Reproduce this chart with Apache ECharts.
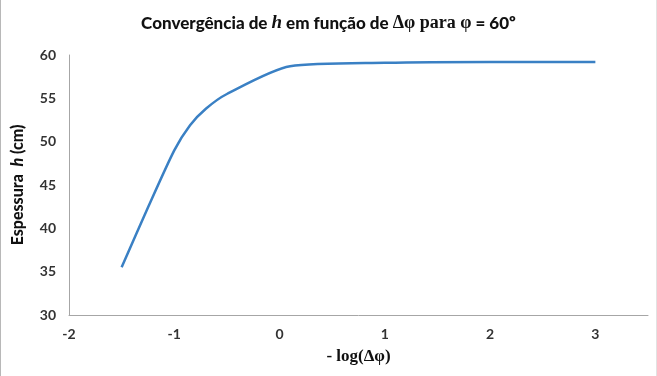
<!DOCTYPE html>
<html>
<head>
<meta charset="utf-8">
<script src="https://cdn.jsdelivr.net/npm/echarts@6/dist/echarts.min.js"></script>
<style>
html,body{margin:0;padding:0;background:#fff;}
#wrap{position:relative;width:657px;height:376px;}
#chart{width:657px;height:376px;}
#bl{position:absolute;left:0;top:0;width:1px;height:376px;background:#b8b8b8;}
#br{position:absolute;right:0;top:0;width:1px;height:376px;background:#e2e2e2;}
</style>
</head>
<body>
<div id="wrap"><div id="chart"></div><div id="bl"></div><div id="br"></div></div>
<script>
// -log(Δφ) values
const xValues = [-1.5, -1.25, -1.0, -0.85, -0.7, -0.5, 0.1, 1, 2, 3];
// Espessura h (cm)
const hValues = [35.5, 42.4, 49.0, 51.9, 53.8, 55.5, 58.7, 59.1, 59.2, 59.2];
const yTicks = [30, 35, 40, 45, 50, 55, 60];
const xTicks = [-2, -1, 0, 1, 2, 3];

const chart = echarts.init(document.getElementById('chart'), null, {renderer: 'canvas'});
const labelFont = 'Lato, "Open Sans", sans-serif';
chart.setOption({
  animation: false,
  backgroundColor: '#fff',
  title: {
    text: '{a|Convergência de }{h|h}{a| em função de }{t|Δφ para φ}{a| = 60º}',
    left: 'center',
    top: 9,
    textStyle: {
      rich: {
        a: {fontFamily: labelFont, fontWeight: 900, fontSize: 17, color: '#111'},
        h: {fontFamily: '"Liberation Serif", serif', fontWeight: 'bold', fontStyle: 'italic', fontSize: 19, color: '#111'},
        t: {fontFamily: '"Liberation Serif", serif', fontWeight: 'bold', fontSize: 18, color: '#111'}
      }
    }
  },
  grid: {left: 69, right: 9, top: 55, bottom: 61, containLabel: false},
  xAxis: {
    type: 'value',
    min: -2, max: 3.5, interval: 1,
    name: '- log(Δφ)',
    nameLocation: 'middle',
    nameGap: 33,
    nameTextStyle: {fontFamily: '"Liberation Serif", serif', fontWeight: 'bold', fontSize: 17, color: '#111'},
    axisLine: {show: true, onZero: false, lineStyle: {color: '#a6a6a6', width: 1}},
    axisTick: {show: false},
    splitLine: {show: false},
    axisLabel: {
      showMaxLabel: false,
      fontFamily: labelFont, fontWeight: 'bold', fontSize: 14, color: '#333', margin: 12,
      formatter: function (v) { return xTicks.indexOf(v) >= 0 ? String(v) : ''; }
    }
  },
  yAxis: {
    type: 'value',
    min: 30, max: 60, interval: 5,
    name: '{a|Espessura  }{h|h}{a| (cm)}',
    nameLocation: 'middle',
    nameGap: 43,
    nameRotate: 90,
    nameTextStyle: {
      rich: {
        a: {fontFamily: labelFont, fontWeight: 900, fontSize: 16, color: '#111'},
        h: {fontFamily: labelFont, fontWeight: 900, fontStyle: 'italic', fontSize: 16, color: '#111'}
      }
    },
    axisLine: {show: true, onZero: false, lineStyle: {color: '#a6a6a6', width: 1}},
    axisTick: {show: false},
    splitLine: {show: false},
    axisLabel: {
      fontFamily: labelFont, fontWeight: 'bold', fontSize: 14, color: '#333', margin: 13,
      formatter: function (v) { return yTicks.indexOf(v) >= 0 ? String(v) : ''; }
    }
  },
  series: [{
    type: 'line',
    data: xValues.map((x, i) => [x, hValues[i]]),
    smooth: 0.25,
    showSymbol: false,
    lineStyle: {color: '#3a80c4', width: 2.5},
    itemStyle: {color: '#3a80c4'}
  }]
});
</script>
</body>
</html>
